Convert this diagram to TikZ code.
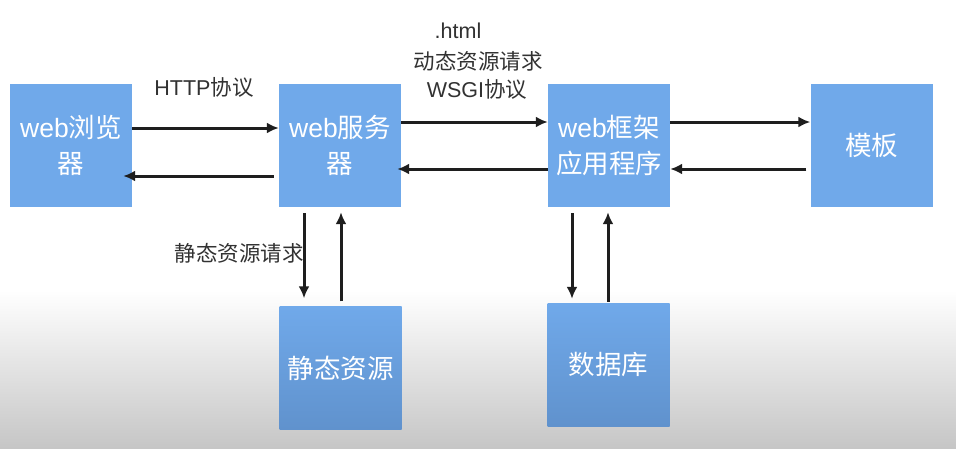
\documentclass[tikz,border=0pt]{standalone}
\usepackage{fontspec}
\setmainfont{Liberation Sans}
\newfontfamily\cjk{Noto Sans CJK SC}
\usetikzlibrary{arrows.meta}
\definecolor{boxblue}{RGB}{112,169,234}
\definecolor{boxbluedark}{RGB}{96,146,205}
\definecolor{ink}{RGB}{30,30,30}
\definecolor{labelink}{RGB}{50,50,50}
\definecolor{bgbottom}{RGB}{198,198,198}
\tikzset{
  box/.style={rectangle, fill=boxblue, minimum width=122pt, minimum height=123pt, inner sep=0pt,
    text=white, font=\fontsize{26.5}{36}\selectfont, align=center},
  lowbox/.style={box, fill=none, top color=boxblue, bottom color=boxbluedark},
  arr/.style={draw=ink, line width=3pt, -{Latex[length=12pt,width=11pt]}},
  lbl/.style={text=labelink, font=\fontsize{21.5}{24}\selectfont, inner sep=0pt}
}
\begin{document}
\begin{tikzpicture}[x=1pt,y=-1pt]
\useasboundingbox (0,0) rectangle (956,448);
\fill[white] (0,0) rectangle (956,448);
\shade[top color=white, bottom color=bgbottom] (0,290) rectangle (956,448);

\node[box] (browser) at (71,145.5) {web{\cjk 浏览}\\{\cjk 器}};
\node[box] (server) at (340,145.5) {web{\cjk 服务}\\{\cjk 器}};
\node[box] (framework) at (609,145.5) {web{\cjk 框架}\\{\cjk 应用程序}};
\node[box] (template) at (871.5,145.5) {{\cjk 模板}};
\node[lowbox] (static) at (340.5,368) {{\cjk 静态资源}};
\node[lowbox] (db) at (608.5,364.5) {{\cjk 数据库}};

\node[lbl] (http) at (204,87) {HTTP{\cjk 协议}};
\node[lbl] (html) at (458,31) {.html};
\node[lbl] (dyn) at (478,61) {{\cjk 动态资源请求}};
\node[lbl] (wsgi) at (477,89) {WSGI{\cjk 协议}};
\node[lbl] (stq) at (239,253) {{\cjk 静态资源请求}};

% browser <-> server
\draw[arr] ([yshift=17.5pt]browser.east) -- ([yshift=17.5pt]server.west);
\draw[arr] ([xshift=-5pt,yshift=-30.5pt]server.west) -- ([xshift=-9pt,yshift=-30.5pt]browser.east);
% server <-> framework
\draw[arr] ([yshift=23.5pt]server.east) -- ([yshift=23.5pt]framework.west);
\draw[arr] ([yshift=-23.5pt]framework.west) -- ([xshift=-4pt,yshift=-23.5pt]server.east);
% framework <-> template
\draw[arr] ([yshift=23.5pt]framework.east) -- ([yshift=23.5pt]template.west);
\draw[arr] ([xshift=-4pt,yshift=-23.5pt]template.west) -- ([yshift=-23.5pt]framework.east);
% server <-> static
\draw[arr] ([xshift=-36pt,yshift=-6pt]server.south) -- ([xshift=-36.5pt,yshift=8pt]static.north);
\draw[arr] ([xshift=0.5pt,yshift=5pt]static.north) -- ([xshift=1pt,yshift=-5pt]server.south);
% framework <-> db
\draw[arr] ([xshift=-37pt,yshift=-6pt]framework.south) -- ([xshift=-36.5pt,yshift=4pt]db.north);
\draw[arr] ([xshift=-0.5pt,yshift=1pt]db.north) -- ([xshift=-1pt,yshift=-5pt]framework.south);
\end{tikzpicture}
\end{document}
